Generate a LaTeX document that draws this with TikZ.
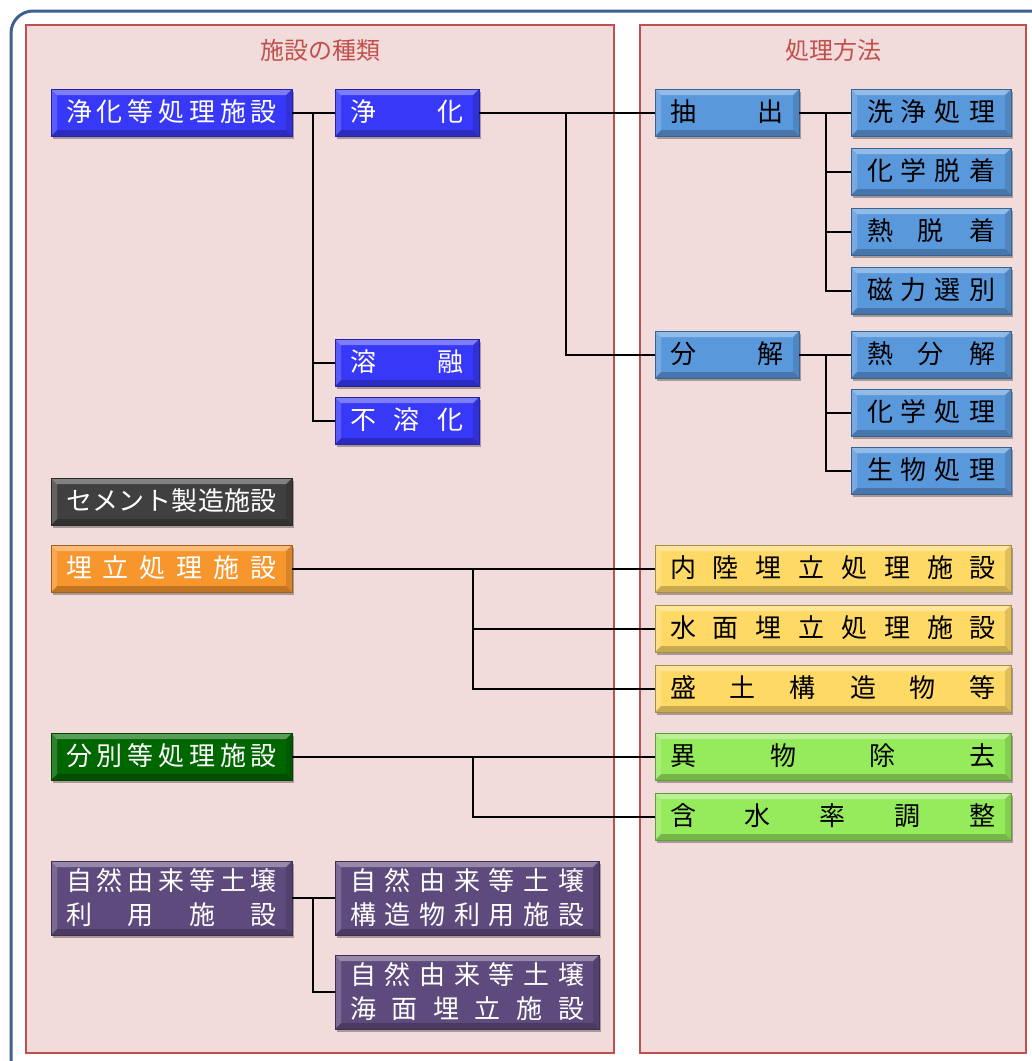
\documentclass[tikz,border=0pt]{standalone}
\usepackage{fontspec}
\setmainfont{Noto Sans CJK JP}
\usetikzlibrary{shadows}
\definecolor{cBlue}{HTML}{3838F8}
\definecolor{cLBlue}{HTML}{5A98DC}
\definecolor{cGray}{HTML}{404040}
\definecolor{cOrange}{HTML}{F8962E}
\definecolor{cGold}{HTML}{FFD966}
\definecolor{cDGreen}{HTML}{006600}
\definecolor{cLGreen}{HTML}{96EB5C}
\definecolor{cPurple}{HTML}{5F4A7D}
\definecolor{cPanel}{HTML}{F2DCDB}
\definecolor{cPanelLine}{HTML}{C0504D}
\definecolor{cFrame}{HTML}{3F6190}
\newcommand\jl[2]{\hbox to #1pt{\vrule height 22pt depth 4pt width 0pt #2}}
\newcommand\jtwo[3]{\vbox{\baselineskip=34pt\jl{#1}{#2}\jl{#1}{#3}}}
\tikzset{
  bevel/.style={path picture={
    \path (path picture bounding box.north west) coordinate (bnw)
          (path picture bounding box.north east) coordinate (bne)
          (path picture bounding box.south west) coordinate (bsw)
          (path picture bounding box.south east) coordinate (bse);
    \fill[white,opacity=.35] (bnw) -- (bne) -- ([shift={(-6pt,-6pt)}]bne) -- ([shift={(6pt,-6pt)}]bnw) -- cycle;
    \fill[black,opacity=.22] (bsw) -- (bse) -- ([shift={(-6pt,6pt)}]bse) -- ([shift={(6pt,6pt)}]bsw) -- cycle;
    \fill[white,opacity=.18] (bnw) -- ([shift={(6pt,-6pt)}]bnw) -- ([shift={(6pt,6pt)}]bsw) -- (bsw) -- cycle;
    \fill[black,opacity=.12] (bne) -- ([shift={(-6pt,-6pt)}]bne) -- ([shift={(-6pt,6pt)}]bse) -- (bse) -- cycle;
  }},
  box/.style={draw=#1!65!black, line width=0.6pt, fill=#1, bevel,
    drop shadow={shadow xshift=2pt, shadow yshift=-3pt, opacity=.3, fill=black},
    inner sep=0pt, minimum height=47pt, font=\fontsize{26pt}{30pt}\selectfont},
  wbox/.style={box=#1, text=white},
  kbox/.style={box=#1, text=black},
  conn/.style={draw=black, line width=2pt},
  panel/.style={draw=cPanelLine, fill=cPanel, line width=1.5pt},
  ttl/.style={text=cPanelLine, font=\fontsize{24pt}{28pt}\selectfont, inner sep=0pt},
}
\begin{document}
\begin{tikzpicture}[x=1pt,y=-1pt]
\useasboundingbox (0,0) rectangle (1032,1061);
\fill[white] (0,0) rectangle (1032,1061);
\begin{scope}
\clip (0,0) rectangle (1032,1061);
\draw[cFrame, line width=3pt, rounded corners=22pt] (11,11) rectangle (1052,1090);
\end{scope}
\draw[panel] (26,25) rectangle (614,1053);
\draw[panel] (640,25) rectangle (1026,1053);
\node[ttl] (t1) at (320,50) {施設の種類};
\node[ttl] (t2) at (833,50) {処理方法};

% left column
\node[wbox=cBlue, minimum width=241pt] (jsh) at (171.5,112.5) {\jl{211}{浄\hfill 化\hfill 等\hfill 処\hfill 理\hfill 施\hfill 設}};
\node[wbox=cGray, minimum width=241pt] (cem) at (171.5,501.5) {\jl{211}{セ\hfill メ\hfill ン\hfill ト\hfill 製\hfill 造\hfill 施\hfill 設}};
\node[wbox=cOrange, minimum width=241pt] (umt) at (171.5,568.5) {\jl{211}{埋\hfill 立\hfill 処\hfill 理\hfill 施\hfill 設}};
\node[wbox=cDGreen, minimum width=241pt] (bbt) at (171.5,756.5) {\jl{211}{分\hfill 別\hfill 等\hfill 処\hfill 理\hfill 施\hfill 設}};
\node[wbox=cPurple, minimum width=241pt, minimum height=74pt] (szr) at (171.5,898) {\jtwo{211}{自\hfill 然\hfill 由\hfill 来\hfill 等\hfill 土\hfill 壌}{利\hfill 用\hfill 施\hfill 設}};

% second column
\node[wbox=cBlue, minimum width=144pt] (jk) at (407,112.5) {\jl{114}{浄\hfill 化}};
\node[wbox=cBlue, minimum width=144pt] (yy) at (407,362.5) {\jl{114}{溶\hfill 融}};
\node[wbox=cBlue, minimum width=144pt] (fy) at (407,420.5) {\jl{114}{不\hfill 溶\hfill 化}};
\node[wbox=cPurple, minimum width=264pt, minimum height=74pt] (sz1) at (467,898) {\jtwo{234}{自\hfill 然\hfill 由\hfill 来\hfill 等\hfill 土\hfill 壌}{構\hfill 造\hfill 物\hfill 利\hfill 用\hfill 施\hfill 設}};
\node[wbox=cPurple, minimum width=264pt, minimum height=74pt] (sz2) at (467,992) {\jtwo{234}{自\hfill 然\hfill 由\hfill 来\hfill 等\hfill 土\hfill 壌}{海\hfill 面\hfill 埋\hfill 立\hfill 施\hfill 設}};

% right panel
\node[kbox=cLBlue, minimum width=144pt] (cs) at (727,112.5) {\jl{114}{抽\hfill 出}};
\node[kbox=cLBlue, minimum width=144pt] (bk) at (727,354.5) {\jl{114}{分\hfill 解}};
\node[kbox=cLBlue, minimum width=160pt] (r1) at (931,112.5) {\jl{128}{洗\hfill 浄\hfill 処\hfill 理}};
\node[kbox=cLBlue, minimum width=160pt] (r2) at (931,171.5) {\jl{128}{化\hfill 学\hfill 脱\hfill 着}};
\node[kbox=cLBlue, minimum width=160pt] (r3) at (931,231.5) {\jl{128}{熱\hfill 脱\hfill 着}};
\node[kbox=cLBlue, minimum width=160pt] (r4) at (931,290.5) {\jl{128}{磁\hfill 力\hfill 選\hfill 別}};
\node[kbox=cLBlue, minimum width=160pt] (r5) at (931,354.5) {\jl{128}{熱\hfill 分\hfill 解}};
\node[kbox=cLBlue, minimum width=160pt] (r6) at (931,412.5) {\jl{128}{化\hfill 学\hfill 処\hfill 理}};
\node[kbox=cLBlue, minimum width=160pt] (r7) at (931,470.5) {\jl{128}{生\hfill 物\hfill 処\hfill 理}};
\node[kbox=cGold, minimum width=356pt] (g1) at (833,568.5) {\jl{326}{内\hfill 陸\hfill 埋\hfill 立\hfill 処\hfill 理\hfill 施\hfill 設}};
\node[kbox=cGold, minimum width=356pt] (g2) at (833,628.5) {\jl{326}{水\hfill 面\hfill 埋\hfill 立\hfill 処\hfill 理\hfill 施\hfill 設}};
\node[kbox=cGold, minimum width=356pt] (g3) at (833,688.5) {\jl{326}{盛\hfill 土\hfill 構\hfill 造\hfill 物\hfill 等}};
\node[kbox=cLGreen, minimum width=356pt] (e1) at (833,756.5) {\jl{326}{異\hfill 物\hfill 除\hfill 去}};
\node[kbox=cLGreen, minimum width=356pt] (e2) at (833,816.5) {\jl{326}{含\hfill 水\hfill 率\hfill 調\hfill 整}};

% connectors
\draw[conn] (jsh.east) -- (jk.west);
\draw[conn] ([xshift=21pt]jsh.east) |- (yy.west);
\draw[conn] ([xshift=21pt]jsh.east) |- (fy.west);
\draw[conn] (jk.east) -- (cs.west);
\draw[conn] ([xshift=87pt]jk.east) |- (bk.west);
\draw[conn] (cs.east) -- (r1.west);
\draw[conn] ([xshift=27pt]cs.east) |- (r2.west);
\draw[conn] ([xshift=27pt]cs.east) |- (r3.west);
\draw[conn] ([xshift=27pt]cs.east) |- (r4.west);
\draw[conn] (bk.east) -- (r5.west);
\draw[conn] ([xshift=27pt]bk.east) |- (r6.west);
\draw[conn] ([xshift=27pt]bk.east) |- (r7.west);
\draw[conn] (umt.east) -- (g1.west);
\draw[conn] ([xshift=181pt]umt.east) |- (g2.west);
\draw[conn] ([xshift=181pt]umt.east) |- (g3.west);
\draw[conn] (bbt.east) -- (e1.west);
\draw[conn] ([xshift=181pt]bbt.east) |- (e2.west);
\draw[conn] (szr.east) -- (sz1.west);
\draw[conn] ([xshift=21pt]szr.east) |- (sz2.west);
\end{tikzpicture}
\end{document}
